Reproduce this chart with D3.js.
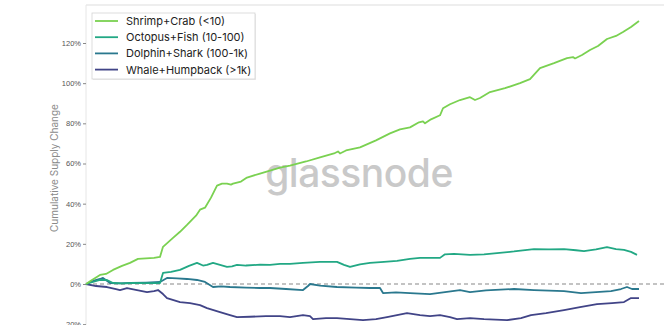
<!DOCTYPE html>
<html>
<head>
<meta charset="utf-8">
<script src="https://cdn.jsdelivr.net/npm/d3@7"></script>
<style>
  body { margin: 0; background: #fff; }
  svg { display: block; font-family: "Inter", "Liberation Sans", sans-serif; }
</style>
</head>
<body>
<svg id="chart" width="664" height="325"></svg>
<script>
// series: [day, % change]
var seriesNames = ["Shrimp+Crab (<10)", "Octopus+Fish (10-100)", "Dolphin+Shark (100-1k)", "Whale+Humpback (>1k)"];
var seriesColors = ["#7ad151", "#22a884", "#2a788e", "#414487"];
var yTicks = [-20, 0, 20, 40, 60, 80, 100, 120];

var shrimp = [[0,0],[6,2],[14,4.5],[20,5],[27,7],[36,9],[44,10.5],[52,12.5],[60,12.8],[68,13],[74,13.5],[77,18.5],[87,23],[94,26],[101,29.4],[110,34],[114,37],[119,38],[125,43],[131,49],[136,50],[141,50],[145,49.5],[147,50],[155,51],[161,53],[174,55],[184,56.5],[194,58],[204,59],[220,61],[234,63],[248,65],[252,66],[254,65],[260,66.5],[274,68],[290,71.5],[304,75],[314,77],[324,78],[333,80.5],[337,81],[339,80],[345,82],[354,84],[357,87.5],[364,89.5],[374,91.6],[384,93],[389,91.6],[394,92.6],[404,95.6],[419,97.5],[434,100],[444,102],[454,107.5],[468,110],[481,112.5],[487,113],[489,112.3],[496,114],[504,116.5],[512,118.5],[521,122],[530,123.5],[537,125.5],[545,128],[553,131]];

var octopus = [[0,0],[7,1],[14,2],[21,2],[27,0.5],[36,0.3],[47,0.5],[60,0.4],[74,0.5],[77,5.5],[85,6],[94,7],[103,9],[111,10.5],[117,9.2],[121,9.5],[127,10.5],[134,9.5],[141,8.5],[146,8.8],[151,9.5],[160,9.2],[174,9.6],[184,9.5],[194,10],[204,10],[217,10.5],[234,11],[251,11],[258,9.5],[264,8.5],[274,9.8],[284,10.5],[298,11],[311,11.5],[324,12.5],[334,13],[344,13],[354,13],[359,14.8],[368,15],[384,14.5],[398,14.8],[411,15.4],[428,16.2],[448,17.4],[463,17.2],[478,17.4],[490,16.8],[498,16.4],[510,17.2],[521,18.4],[530,17.4],[538,17],[545,16],[551,14.5]];

var dolphin = [[0,0],[7,1.5],[14,2.5],[17,3],[24,0.5],[34,0.3],[44,0.5],[60,0.7],[74,1],[81,3],[91,2.8],[101,2.5],[111,2],[119,1],[127,-1.5],[135,-1.2],[144,-1.5],[160,-1.8],[174,-2],[184,-2],[200,-2.5],[217,-3],[222,-1],[224,0],[234,-0.8],[251,-1.5],[270,-1.8],[284,-2],[294,-2],[297,-4.5],[310,-4.2],[324,-4.5],[334,-4.8],[344,-5],[359,-4],[374,-3],[384,-4],[400,-3.2],[428,-2.5],[448,-3],[478,-3.5],[495,-4.5],[510,-4],[525,-3.5],[535,-2.5],[541,-1.5],[546,-2.5],[553,-2.5]];

var whale = [[0,0],[10,-1],[21,-1.5],[30,-2.5],[34,-3],[41,-2],[51,-3],[61,-4],[68,-3.5],[72,-3],[77,-5],[81,-7],[94,-9],[104,-9.5],[114,-10.5],[121,-12],[134,-14],[144,-15.5],[151,-16.5],[164,-16.3],[180,-16],[194,-16],[204,-16.5],[217,-15.5],[224,-16],[227,-17.5],[240,-17],[251,-17],[264,-17.5],[277,-18],[290,-17.5],[301,-16.5],[311,-15.5],[321,-14.5],[334,-15.5],[344,-16],[354,-15.5],[364,-16.5],[371,-17.5],[384,-17],[398,-17.5],[421,-18],[435,-17],[445,-15.5],[460,-14.5],[478,-13],[494,-11.5],[511,-10],[526,-9.5],[538,-9],[545,-7],[553,-7]];

var allSeries = [shrimp, octopus, dolphin, whale];

var svg = d3.select("#chart");

var x = d3.scaleLinear().domain([0, 578]).range([86, 664]);
var y = d3.scaleLinear().domain([0, 120]).range([284, 43]);

// faint top border of the panel
svg.append("line")
  .attr("x1", 86).attr("x2", 664).attr("y1", 5).attr("y2", 5)
  .attr("stroke", "#eeeeee").attr("stroke-width", 2);

// y axis
var yAxis = svg.append("g")
  .attr("transform", "translate(86,0)")
  .call(d3.axisLeft(y).tickValues(yTicks).tickSize(3).tickPadding(2)
    .tickFormat(function(d) { return d + "%"; }));
yAxis.select(".domain").attr("stroke", "#e6e6e6").attr("d", "M0,5V325");
yAxis.selectAll(".tick line").attr("stroke", "#888");
yAxis.selectAll(".tick text")
  .attr("fill", "#555")
  .style("font-size", "7.5px");

svg.append("text")
  .attr("transform", "translate(58,168) rotate(-90)")
  .attr("text-anchor", "middle")
  .attr("fill", "#8a8a8a")
  .style("font-size", "10px")
  .text("Cumulative Supply Change");

// watermark
svg.append("text")
  .attr("x", 359).attr("y", 187)
  .attr("text-anchor", "middle")
  .attr("fill", "#c9c9c9")
  .style("font-size", "39px")
  .style("font-weight", 500)
  .style("letter-spacing", "-0.5px")
  .text("glassnode");

// zero line
svg.append("line")
  .attr("x1", 86).attr("x2", 664).attr("y1", y(0)).attr("y2", y(0))
  .attr("stroke", "#888").attr("stroke-width", 1.2)
  .attr("stroke-dasharray", "4,3");

var line = d3.line()
  .x(function(d) { return x(d[0]); })
  .y(function(d) { return y(d[1]); });

// draw back-to-front so shrimp sits on top
[3, 2, 1, 0].forEach(function(i) {
  svg.append("path")
    .datum(allSeries[i])
    .attr("d", line)
    .attr("fill", "none")
    .attr("stroke", seriesColors[i])
    .attr("stroke-width", 1.8)
    .attr("stroke-linejoin", "round");
});

// legend
var legend = svg.append("g").attr("transform", "translate(92,13)");
legend.append("rect")
  .attr("x", 1).attr("y", 1).attr("width", 163).attr("height", 66)
  .attr("fill", "#ddd").attr("opacity", 0.6);
legend.append("rect")
  .attr("width", 163).attr("height", 66)
  .attr("fill", "#fff").attr("stroke", "#d4d4d4").attr("stroke-width", 0.8);

var items = legend.selectAll("g.item")
  .data(seriesNames)
  .enter().append("g")
  .attr("transform", function(d, i) { return "translate(0," + (8 + i * 16.2) + ")"; });
items.append("line")
  .attr("x1", 3).attr("x2", 26).attr("y1", 0).attr("y2", 0)
  .attr("stroke", function(d, i) { return seriesColors[i]; })
  .attr("stroke-width", 1.8);
items.append("text")
  .attr("x", 34).attr("y", 4)
  .attr("fill", "#222")
  .style("font-size", "11px")
  .text(function(d) { return d; });
</script>
</body>
</html>
